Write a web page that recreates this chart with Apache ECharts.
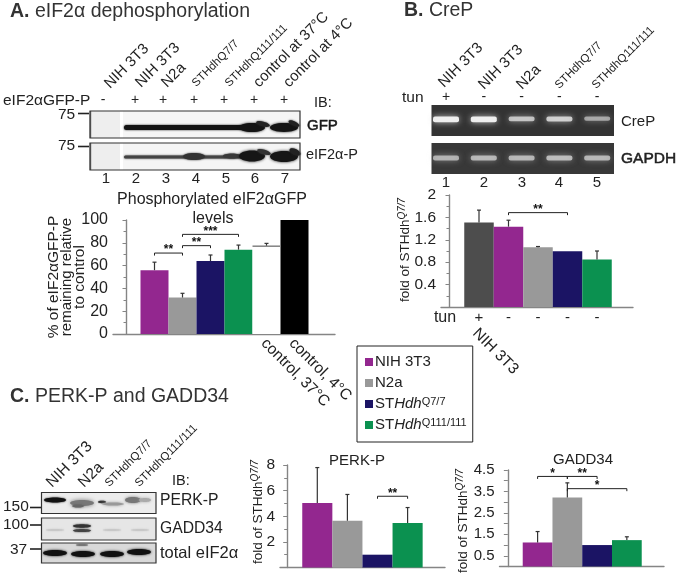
<!DOCTYPE html>
<html><head><meta charset="utf-8">
<style>html,body{margin:0;padding:0;background:#fff}#c{width:680px;height:576px}</style>
<script src="https://cdn.jsdelivr.net/npm/echarts@6/dist/echarts.min.js"></script>
</head><body><div id="c"></div>
<script>
// ---- data ----
const legendNames = ['NIH 3T3','N2a','STHdh Q7/7','STHdh Q111/111'];
const aCategories = ['NIH 3T3','N2a','STHdhQ7/7','STHdhQ111/111','control, 37°C','control, 4°C'];
const aValues = [56,32,64,74,77,100];
const aErrorTops = [63,35.7,69.3,78,79.5,100];
const aBrackets = [[1,2,71,'**'],[2,3,77.5,'**'],[2,4,87.4,'***']];
const bCategories = ['NIH 3T3 +tun','NIH 3T3','N2a','STHdhQ7/7','STHdhQ111/111'];
const bTun = ['+','-','-','-','-'];
const bValues = [1.51,1.435,1.065,0.995,0.85];
const bErrorTops = [1.73,1.55,1.08,0.995,1.0];
const bBrackets = [[2,4,1.685,'**']];
const cCategories = ['NIH 3T3','N2a','STHdhQ7/7','STHdhQ111/111'];
const perkValues = [5.04,3.64,1.0,3.48];
const perkErrorTops = [7.8,5.7,1.0,4.68];
const perkBrackets = [[3,4,5.56,'**']];
const gaddValues = [1.12,3.22,1.0,1.23];
const gaddErrorTops = [1.63,3.9,1.0,1.385];
const gaddBrackets = [[1,2,4.2,'*'],[2,3,4.2,'**'],[2,4,3.63,'*']];
// blot band strengths (0..1)
const crepBands = [.95,.95,.62,.7,.45];
const gapdhBands = [.62,.66,.66,.7,.66];

// ---- style ----
const FONT = '"Liberation Sans",Arial,sans-serif';
const PURPLE='#93278f',GREY='#999999',NAVY='#1b1464',GREEN='#0b9150',DARK='#4d4d4d',TXT='#222';
const fourColors=[PURPLE,GREY,NAVY,GREEN];
const AXIS='#858585';

const grids=[],xAxes=[],yAxes=[],series=[];
function yAxisCfg(i,max,interval,minor,fmt,fs){
  return {type:'value',gridIndex:i,min:0,max,interval,
    axisLine:{show:true,lineStyle:{color:AXIS,width:1.4}},
    axisTick:{show:true,length:4,lineStyle:{color:AXIS}},
    minorTick:minor?{show:true,splitNumber:2,length:3,lineStyle:{color:AXIS}}:{show:false},
    splitLine:{show:false},minorSplitLine:{show:false},
    axisLabel:{color:TXT,fontFamily:FONT,fontSize:fs,margin:5,formatter:fmt}};
}
function panel(o){
  const i=grids.length;
  const xOf=v=>(v-o.firstCenter)/o.barW+1;
  grids.push({left:o.x0,top:o.yTop,width:o.x1-o.x0,height:o.y0-o.yTop,containLabel:false});
  xAxes.push({type:'value',gridIndex:i,min:xOf(o.x0),max:xOf(o.x1),
    axisLine:{show:true,onZero:false,lineStyle:{color:AXIS,width:1.4}},axisTick:{show:false},
    axisLabel:{show:false},splitLine:{show:false}});
  yAxes.push(yAxisCfg(i,o.max,o.interval,o.minor,o.fmt,o.fs||16));
  series.push({type:'bar',name:o.name,xAxisIndex:i,yAxisIndex:i,barWidth:o.barW,silent:true,clip:false,
    data:o.values.map((v,k)=>({value:[k+1,v],itemStyle:{color:o.colors[k]}}))});
  series.push({type:'custom',xAxisIndex:i,yAxisIndex:i,silent:true,clip:false,z:3,
    data:o.values.map((v,k)=>[k+1,v,o.tops[k]]),
    renderItem(p,api){
      const a=api.coord([api.value(0),api.value(1)]),b=api.coord([api.value(0),api.value(2)]);
      const kids=[];
      const st={stroke:'#333',lineWidth:1.2};
      if(api.value(2)>api.value(1)&&api.value(1)<o.max){
        kids.push({type:'line',shape:{x1:a[0],y1:a[1],x2:b[0],y2:b[1]},style:st});
        kids.push({type:'line',shape:{x1:a[0]-2,y1:b[1],x2:a[0]+2,y2:b[1]},style:st});
      }
      if(o.colors[p.dataIndex]==='#ffffff'){
        kids.push({type:'line',shape:{x1:a[0]-o.barW/2,y1:a[1],x2:a[0]+o.barW/2,y2:a[1]},style:{stroke:'#888',lineWidth:1.6}});
      }
      return {type:'group',children:kids};
    }});
  series.push({type:'custom',xAxisIndex:i,yAxisIndex:i,silent:true,clip:false,z:4,
    data:o.brackets.map(b=>[b[0],b[1],b[2]]),
    renderItem(p,api){
      const a=api.coord([api.value(0),api.value(2)]),b=api.coord([api.value(1),api.value(2)]);
      const st={stroke:'#222',lineWidth:1,fill:'none'};
      return {type:'group',children:[
        {type:'polyline',shape:{points:[[a[0],a[1]+2.5],[a[0],a[1]],[b[0],b[1]],[b[0],b[1]+2.5]]},style:st},
        {type:'text',x:(a[0]+b[0])/2,y:a[1]-3,style:{text:o.brackets[p.dataIndex][3],align:'center',verticalAlign:'middle',font:'bold 12px '+FONT,fill:'#111'}}
      ]};
    }});
  if(o.under) series.push({type:'custom',xAxisIndex:i,yAxisIndex:i,silent:true,clip:false,z:5,
    data:o.under.map(u=>[u[0],0]),
    renderItem(p,api){
      const a=api.coord([api.value(0),0]),u=o.under[p.dataIndex];
      return {type:'text',x:a[0]+(u[2]||0),y:a[1]+u[3],rotation:u[4]||0,
        style:{text:u[1],align:u[4]?'left':'center',verticalAlign:'middle',font:(u[5]||15)+'px '+FONT,fill:TXT}};
    }});
}
const rot=-Math.PI/4;
panel({name:'A',x0:113,x1:335,y0:334,yTop:220,firstCenter:154.5,barW:28,max:100,interval:20,minor:true,fs:16,
  fmt:v=>String(v),values:aValues,tops:aErrorTops,colors:[...fourColors,'#ffffff','#000000'],brackets:aBrackets,
  under:[[5,aCategories[4],-3,7,rot,15.5],[6,aCategories[5],-3,7,rot,15.5]]});
panel({name:'B',x0:441,x1:633,y0:307,yTop:195,firstCenter:479,barW:29.5,max:2,interval:0.4,minor:true,fs:15.5,
  fmt:v=>v===0?'':String(+v.toFixed(1)),values:bValues,tops:bErrorTops,colors:[DARK,...fourColors],brackets:bBrackets,
  under:[...bTun.map((t,k)=>[k+1,t,0,11,0,15]),[1,'NIH 3T3',-4,24,rot,15.5]]});
panel({name:'PERK-P',x0:280,x1:445,y0:567.5,yTop:465,firstCenter:317.3,barW:30.1,max:8,interval:2,minor:true,fs:15.5,
  fmt:v=>v===0?'':String(v),values:perkValues,tops:perkErrorTops,colors:fourColors,brackets:perkBrackets});
panel({name:'GADD34',x0:499.5,x1:664,y0:566.5,yTop:470,firstCenter:537.6,barW:29.75,max:4.5,interval:0.5,minor:false,fs:15,
  fmt:v=>(Math.round(v*2)%2===1)?String(v):'',values:gaddValues,tops:gaddErrorTops,colors:fourColors,brackets:gaddBrackets});

const legendLabels=['NIH 3T3','N2a','{i|ST}{it|Hdh}{s|Q7/7}','{i|ST}{it|Hdh}{s|Q111/111}'];
legendNames.forEach((n,k)=>series.push({type:'custom',name:n,data:[],renderItem(){return null},itemStyle:{color:fourColors[k]},xAxisIndex:0,yAxisIndex:0}));

// ---- drawn annotation ----
const G=[];
function T(x,y,text,size,o={}){
  G.push({type:'text',x,y,rotation:o.rot||0,z:20,silent:true,style:Object.assign({text,align:o.align||'left',verticalAlign:o.va||'middle',
    font:(o.weight?o.weight+' ':'')+size+'px '+FONT,fill:o.fill||TXT},o.rich?{rich:o.rich}:{},o.stroke?{stroke:o.fill||TXT,lineWidth:o.stroke}:{})});
}
function R(x,y,w,h,fill,o={}){G.push({type:'rect',shape:{x,y,width:w,height:h},silent:true,z:o.z||10,style:{fill,stroke:o.stroke||null,lineWidth:o.lw||1}});}
function band(cx,cy,rx,ry,fill,blur,angle,opacity){
  G.push({type:'ellipse',x:cx,y:cy,rotation:angle||0,shape:{cx:0,cy:0,rx,ry},silent:true,z:12,
    style:{fill,shadowBlur:blur,shadowColor:fill,opacity:opacity==null?1:opacity}});
}
function strip(x,y,w,h,fill,blur){G.push({type:'rect',shape:{x,y,width:w,height:h,r:h/2},silent:true,z:12,style:{fill,shadowBlur:blur,shadowColor:fill}});}
function Line(x1,y1,x2,y2,c,w){G.push({type:'line',shape:{x1,y1,x2,y2},silent:true,z:14,style:{stroke:c,lineWidth:w}});}
function frame(x,y,w,h,c,lw){G.push({type:'rect',shape:{x,y,width:w,height:h},silent:true,z:15,style:{fill:'none',stroke:c||'#333',lineWidth:lw||1.2}});}
const R45=Math.PI/4;

// titles
const titleRich={h:{font:'bold 19.5px '+FONT,fill:'#333'},n:{font:'19.5px '+FONT,fill:'#333'}};
T(10,12,'{h|A.} {n|eIF2α dephosphorylation}',19.5,{rich:titleRich});
T(404,11,'{h|B.} {n|CreP}',19.5,{rich:titleRich});
T(10,397,'{h|C.} {n|PERK-P and GADD34}',19.5,{rich:titleRich});

// --- panel A blot
[['NIH 3T3',107,86,15],['NIH 3T3',138,85,15],['N2a',164,85,15],['STHdhQ7/7',194,85,11.5],['STHdhQ111/111',227,85,11.5],['control at 37°C',256,85,15],['control at 4°C',286,85,15]]
  .forEach(a=>T(a[1],a[2],a[0],a[3],{rot:R45}));
T(3,101,'eIF2αGFP-P',15.5);
['-','+','+','+','+','+','+'].forEach((s,k)=>T([103,135,163,194,224,254,284][k],100,s,14,{align:'center'}));
T(314,103,'IB:',14.5);
[[111,27],[143,27]].forEach(r=>{
  R(90,r[0],30,r[1],'#eeeeee');R(120,r[0],3,r[1],'#ffffff');R(123,r[0],177,r[1],'#f5f5f5');
});
Line(90.5,111,90.5,138,'#777',1.5);Line(90.5,143,90.5,170,'#777',1.5);
strip(124,125,124,5,'#141414',2);
band(252,127.5,13,4.6,'#141414',2.5);band(263,124,7,2.4,'#222',2,-.25);
band(284,127.5,14,4.4,'#141414',2.5);band(294,123.5,6,2.2,'#222',2,-.45);
strip(124,155.5,122,3,'#444',2);
band(194,156.5,11,3.5,'#333',2);band(232,156,9,2.5,'#3a3a3a',2);
band(252,156,13,5.5,'#161616',3);band(264,152,7,2.4,'#333',2,-.3);
band(284,156.5,14,5.5,'#161616',3);band(295,152,6,3,'#222',2,-.45);
frame(90,111,210,27);frame(90,143,210,27);
T(58,115,'75',15.5);Line(78,113.5,89,113.5,'#222',1.6);
T(58,146,'75',15.5);Line(78,146.5,89,146.5,'#222',1.6);
T(307,126,'GFP',15,{stroke:.5,fill:'#1a1a1a'});
T(306,155,'eIF2α-P',14.5);
[106,136,166,196,226,255,285].forEach((x,k)=>T(x,179,String(k+1),15,{align:'center'}));
// A chart text
T(212,200,'Phosphorylated eIF2αGFP',16,{align:'center'});
T(213,219,'levels',16,{align:'center'});
T(53.5,277,'% of eIF2αGFP-P',15.5,{align:'center',rot:Math.PI/2});
T(66.5,277,'remaining relative',15,{align:'center',rot:Math.PI/2});
T(79.5,277,'to control',15.5,{align:'center',rot:Math.PI/2});

// --- panel B blot
[['NIH 3T3',441,85,15],['NIH 3T3',481,87,15],['N2a',519,87,15],['STHdhQ7/7',557,87,11.5],['STHdhQ111/111',594,87,11.5]]
  .forEach(a=>T(a[1],a[2],a[0],a[3],{rot:R45}));
T(402,98,'tun',15.5);
T(445,318,'tun',16,{align:'center'});
['+','-','-','-','-'].forEach((s,k)=>T(446+k*37.8,97,s,14,{align:'center'}));
R(431.5,105,182.5,31,'#333333');R(431.5,143,182.5,31,'#383838');
crepBands.forEach((s,k)=>{G.push({type:'rect',shape:{x:433+k*37.8,y:116.5,width:26,height:3+s*3,r:2},silent:true,z:12,style:{fill:'#f4f4f4',opacity:.15+s*.85,shadowBlur:6,shadowColor:'rgba(210,210,210,.9)'}});});
gapdhBands.forEach((s,k)=>{G.push({type:'rect',shape:{x:433+k*37.8,y:155.5,width:26,height:5,r:2},silent:true,z:12,style:{fill:'#dddddd',opacity:.15+s*.85,shadowBlur:6,shadowColor:'rgba(190,190,190,.8)'}});});
T(621,122,'CreP',15);
T(621,159,'GAPDH',15.5,{stroke:.5});
[446,484,522,559,597].forEach((x,k)=>T(x,183,String(k+1),15,{align:'center'}));
// fold labels
const foldRich={a:{font:'13.5px '+FONT,fill:TXT,lineHeight:16},s:{font:'italic 10px '+FONT,fill:TXT,verticalAlign:'top',lineHeight:16}};
T(405,250,'{a|fold of STHdh}{s|Q7/7}',13.5,{align:'center',rot:Math.PI/2,rich:foldRich});
T(258,512,'{a|fold of STHdh}{s|Q7/7}',13.5,{align:'center',rot:Math.PI/2,rich:foldRich});
T(463,521,'{a|fold of STHdh}{s|Q7/7}',13.5,{align:'center',rot:Math.PI/2,rich:foldRich});
T(357,461,'PERK-P',15,{align:'center'});
T(583,460,'GADD34',15,{align:'center'});

// --- panel C blot
[['NIH 3T3',49,485,15.5],['N2a',81,485,15.5],['STHdhQ7/7',107,485,11.5],['STHdhQ111/111',137,485,11.5]]
  .forEach(a=>T(a[1],a[2],a[0],a[3],{rot:R45}));
T(172,481,'IB:',14.5);
R(41.5,492.5,114.5,21,'#ececec');R(41.5,518,114.5,22,'#e6e6e6');R(41.5,543,114.5,20,'#d9d9d9');
band(55,500,11,2.5,'#111',2);
band(82,503,12,3,'#777',4);band(78,506,6,1.5,'#666',2);
band(102,502,4,1.2,'#333',1.5);band(113,504,11,1.5,'#999',3);
band(133,500,8,3,'#777',3);band(145,500,6,2,'#aaa',3);
band(82,526,9,1.7,'#333',2);band(82,530.5,9,1.6,'#444',2);
[55,112,140].forEach(x=>band(x,530,9,1,'#c8c8c8',2));
[[55,553],[83,554],[112,554],[139,552]].forEach(a=>band(a[0],a[1],12,3,'#111',2.5));
band(82,545,6,1,'#777',1.5);
frame(41.5,492.5,114.5,21);frame(41.5,518,114.5,22);frame(41.5,543,114.5,20);
T(3,507,'150',15.5);Line(30,507.5,41,507.5,'#222',1.6);
T(3,525,'100',15.5);Line(30,525,41,525,'#222',1.6);
T(10,550,'37',15.5);Line(30,549,41,549,'#222',1.6);
T(160,501,'PERK-P',15.7);
T(160,529,'GADD34',15.7);
T(160,553,'total eIF2α',16.5);

const chart=echarts.init(document.getElementById('c'),null,{renderer:'canvas'});
chart.setOption({
  animation:false,backgroundColor:'#fff',
  textStyle:{fontFamily:FONT},
  grid:grids,xAxis:xAxes,yAxis:yAxes,series,
  legend:{show:true,orient:'vertical',left:357,top:346,selectedMode:false,
    backgroundColor:'#fff',borderColor:'#222',borderWidth:1,padding:[8,6,9,8],itemGap:5,itemWidth:8,itemHeight:8,icon:'rect',
    data:legendNames.map((n,k)=>({name:n,icon:'rect',itemStyle:{color:fourColors[k]}})),
    formatter:n=>legendLabels[legendNames.indexOf(n)],
    textStyle:{fontFamily:FONT,fontSize:15,color:TXT,lineHeight:16,padding:[0,0,0,-3],
      rich:{i:{fontSize:15,fontFamily:FONT,color:TXT,lineHeight:16},it:{fontSize:15,fontStyle:'italic',fontFamily:FONT,color:TXT,lineHeight:16},s:{fontSize:11,fontFamily:FONT,color:TXT,verticalAlign:'top',lineHeight:16}}}},
  graphic:{elements:G}
});
</script></body></html>
